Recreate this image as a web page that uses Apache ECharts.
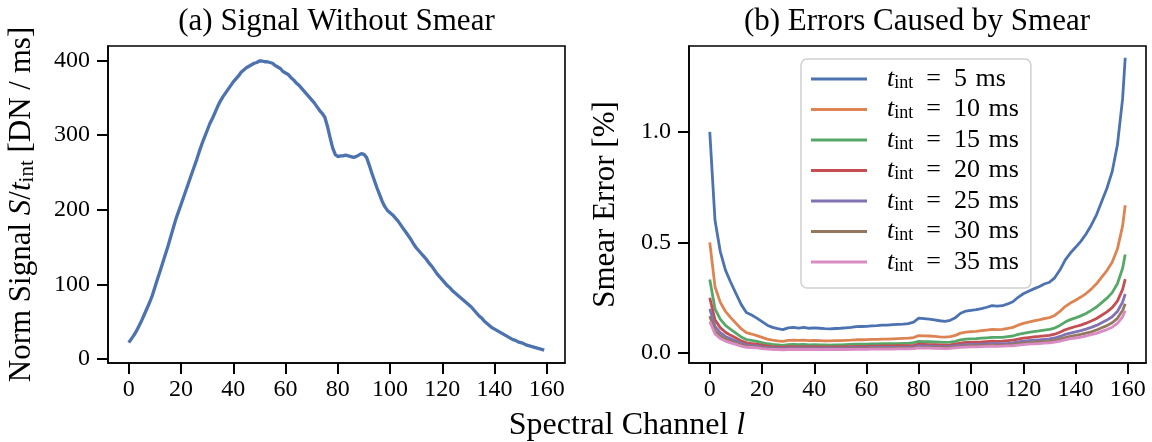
<!DOCTYPE html>
<html>
<head>
<meta charset="utf-8">
<script src="https://cdn.jsdelivr.net/npm/echarts@6/dist/echarts.min.js"></script>
<style>
html,body{margin:0;padding:0;background:#fff;}
#chart{width:1152px;height:442px;}
</style>
</head>
<body>
<div id="chart"></div>
<script>
// ---- data ----
const signal = [
  22, 27, 32, 38, 45, 52, 60, 68, 76, 85,
  96, 107, 118, 129, 140, 151, 163, 175, 187, 197,
  207, 217, 227, 237, 247, 257, 267, 278, 288, 297,
  306, 315, 322, 330, 338, 345, 351, 356, 361, 366,
  371, 375, 379, 384, 387, 390, 392, 394, 396, 397,
  399, 399, 398, 398, 397, 396, 393, 391, 389, 385,
  383, 381, 377, 374, 370, 367, 363, 359, 355, 351,
  347, 343, 338, 333, 329, 324, 312, 297, 283, 274,
  271, 272, 272, 273, 272, 271, 270, 271, 273, 275,
  274, 270, 260, 249, 239, 229, 220, 211, 204, 199,
  196, 193, 189, 185, 180, 175, 170, 165, 160, 154,
  149, 145, 141, 137, 133, 128, 124, 119, 114, 110,
  106, 102, 98, 95, 91, 88, 85, 82, 79, 76,
  73, 70, 66, 62, 58, 55, 51, 48, 45, 42,
  40, 38, 36, 34, 32, 30, 28, 26, 25, 23,
  22, 21, 19, 18, 17, 16, 15, 14, 13, 12
];
const signalChannels = signal.map((_, i) => i);

// smear error channels (every 2nd channel, plus last)
const errChannels = [];
for (let c = 0; c <= 158; c += 2) errChannels.push(c);
errChannels.push(159);

const tintValues = [5, 10, 15, 20, 25, 30, 35];
const err5 = [
  1.000, 0.600, 0.460, 0.375, 0.320, 0.270, 0.220, 0.183, 0.172, 0.158,
  0.142, 0.126, 0.116, 0.110, 0.106, 0.114, 0.116, 0.113, 0.116, 0.112,
  0.114, 0.112, 0.110, 0.109, 0.111, 0.112, 0.114, 0.116, 0.119, 0.120,
  0.121, 0.123, 0.124, 0.126, 0.126, 0.128, 0.130, 0.131, 0.133, 0.140,
  0.158, 0.156, 0.153, 0.150, 0.146, 0.143, 0.148, 0.160, 0.180, 0.190,
  0.193, 0.196, 0.201, 0.207, 0.214, 0.212, 0.214, 0.222, 0.232, 0.252,
  0.268, 0.279, 0.290, 0.300, 0.312, 0.320, 0.340, 0.375, 0.420, 0.452,
  0.478, 0.505, 0.538, 0.578, 0.625, 0.685, 0.745, 0.820, 0.940, 1.150,
  1.335
];
const err10 = [
  0.500, 0.300, 0.230, 0.188, 0.160, 0.135, 0.110, 0.092, 0.086, 0.079,
  0.071, 0.063, 0.058, 0.055, 0.053, 0.057, 0.058, 0.057, 0.058, 0.056,
  0.057, 0.056, 0.055, 0.055, 0.056, 0.056, 0.057, 0.058, 0.060, 0.060,
  0.061, 0.062, 0.062, 0.063, 0.063, 0.064, 0.065, 0.066, 0.067, 0.070,
  0.079, 0.078, 0.077, 0.075, 0.073, 0.072, 0.074, 0.080, 0.090, 0.095,
  0.097, 0.098, 0.101, 0.104, 0.107, 0.106, 0.107, 0.111, 0.116, 0.126,
  0.134, 0.140, 0.145, 0.150, 0.156, 0.160, 0.170, 0.188, 0.210, 0.226,
  0.239, 0.253, 0.269, 0.289, 0.313, 0.343, 0.373, 0.410, 0.470, 0.575,
  0.668
];
const err15 = [
  0.333, 0.200, 0.153, 0.125, 0.107, 0.090, 0.073, 0.061, 0.057, 0.053,
  0.047, 0.042, 0.039, 0.037, 0.035, 0.038, 0.039, 0.038, 0.039, 0.037,
  0.038, 0.037, 0.037, 0.036, 0.037, 0.037, 0.038, 0.039, 0.040, 0.040,
  0.040, 0.041, 0.041, 0.042, 0.042, 0.043, 0.043, 0.044, 0.044, 0.047,
  0.053, 0.052, 0.051, 0.050, 0.049, 0.048, 0.049, 0.053, 0.060, 0.063,
  0.064, 0.065, 0.067, 0.069, 0.071, 0.071, 0.071, 0.074, 0.077, 0.084,
  0.089, 0.093, 0.097, 0.100, 0.104, 0.107, 0.113, 0.125, 0.140, 0.151,
  0.159, 0.168, 0.179, 0.193, 0.208, 0.228, 0.248, 0.273, 0.313, 0.383,
  0.445
];
const err20 = [
  0.250, 0.150, 0.115, 0.094, 0.080, 0.068, 0.055, 0.046, 0.043, 0.040,
  0.036, 0.032, 0.029, 0.028, 0.027, 0.029, 0.029, 0.028, 0.029, 0.028,
  0.029, 0.028, 0.028, 0.027, 0.028, 0.028, 0.029, 0.029, 0.030, 0.030,
  0.030, 0.031, 0.031, 0.032, 0.032, 0.032, 0.033, 0.033, 0.033, 0.035,
  0.040, 0.039, 0.038, 0.038, 0.037, 0.036, 0.037, 0.040, 0.045, 0.048,
  0.048, 0.049, 0.050, 0.052, 0.054, 0.053, 0.054, 0.056, 0.058, 0.063,
  0.067, 0.070, 0.073, 0.075, 0.078, 0.080, 0.085, 0.094, 0.105, 0.113,
  0.120, 0.126, 0.135, 0.145, 0.156, 0.171, 0.186, 0.205, 0.235, 0.288,
  0.334
];
const err25 = [
  0.200, 0.120, 0.092, 0.075, 0.064, 0.054, 0.044, 0.037, 0.034, 0.032,
  0.028, 0.025, 0.023, 0.022, 0.021, 0.023, 0.023, 0.023, 0.023, 0.022,
  0.023, 0.022, 0.022, 0.022, 0.022, 0.022, 0.023, 0.023, 0.024, 0.024,
  0.024, 0.025, 0.025, 0.025, 0.025, 0.026, 0.026, 0.026, 0.027, 0.028,
  0.032, 0.031, 0.031, 0.030, 0.029, 0.029, 0.030, 0.032, 0.036, 0.038,
  0.039, 0.039, 0.040, 0.041, 0.043, 0.042, 0.043, 0.044, 0.046, 0.050,
  0.054, 0.056, 0.058, 0.060, 0.062, 0.064, 0.068, 0.075, 0.084, 0.090,
  0.096, 0.101, 0.108, 0.116, 0.125, 0.137, 0.149, 0.164, 0.188, 0.230,
  0.267
];
const err30 = [
  0.167, 0.100, 0.077, 0.063, 0.053, 0.045, 0.037, 0.031, 0.029, 0.026,
  0.024, 0.021, 0.019, 0.018, 0.018, 0.019, 0.019, 0.019, 0.019, 0.019,
  0.019, 0.019, 0.018, 0.018, 0.019, 0.019, 0.019, 0.019, 0.020, 0.020,
  0.020, 0.021, 0.021, 0.021, 0.021, 0.021, 0.022, 0.022, 0.022, 0.023,
  0.026, 0.026, 0.026, 0.025, 0.024, 0.024, 0.025, 0.027, 0.030, 0.032,
  0.032, 0.033, 0.034, 0.035, 0.036, 0.035, 0.036, 0.037, 0.039, 0.042,
  0.045, 0.047, 0.048, 0.050, 0.052, 0.053, 0.057, 0.063, 0.070, 0.075,
  0.080, 0.084, 0.090, 0.096, 0.104, 0.114, 0.124, 0.137, 0.157, 0.192,
  0.223
];
const err35 = [
  0.143, 0.086, 0.066, 0.054, 0.046, 0.039, 0.031, 0.026, 0.025, 0.023,
  0.020, 0.018, 0.017, 0.016, 0.015, 0.016, 0.017, 0.016, 0.017, 0.016,
  0.016, 0.016, 0.016, 0.016, 0.016, 0.016, 0.016, 0.017, 0.017, 0.017,
  0.017, 0.018, 0.018, 0.018, 0.018, 0.018, 0.019, 0.019, 0.019, 0.020,
  0.023, 0.022, 0.022, 0.021, 0.021, 0.020, 0.021, 0.023, 0.026, 0.027,
  0.028, 0.028, 0.029, 0.030, 0.031, 0.030, 0.031, 0.032, 0.033, 0.036,
  0.038, 0.040, 0.041, 0.043, 0.045, 0.046, 0.049, 0.054, 0.060, 0.065,
  0.068, 0.072, 0.077, 0.083, 0.089, 0.098, 0.106, 0.117, 0.134, 0.164,
  0.191
];
const errSeries = [err5, err10, err15, err20, err25, err30, err35];

const xTicks = [0, 20, 40, 60, 80, 100, 120, 140, 160];
const yTicksSignal = [0, 100, 200, 300, 400];
const yTicksErr = [0, 0.5, 1.0];

const colors = ['#4C72B0', '#DD8452', '#55A868', '#C44E52', '#8172B3', '#937860', '#DA8BC3'];

// ---- chart ----
const FONT = 'Liberation Serif';
const chart = echarts.init(document.getElementById('chart'), null, {renderer: 'canvas'});

function xAxisCfg(gridIndex) {
  return {
    type: 'value', gridIndex: gridIndex, min: -7.95, max: 166.95,
    splitLine: {show: false},
    axisLine: {show: true, onZero: false, lineStyle: {color: '#000', width: 1.6}},
    axisTick: {show: true, customValues: xTicks, length: 11, lineStyle: {color: '#000', width: 2}},
    axisLabel: {customValues: xTicks, margin: 15, color: '#000', fontFamily: FONT, fontSize: 24}
  };
}
function yAxisCfg(gridIndex, min, max, ticks, fmt, name, rich, gap) {
  return {
    type: 'value', gridIndex: gridIndex, min: min, max: max,
    splitLine: {show: false},
    axisLine: {show: true, onZero: false, lineStyle: {color: '#000', width: 1.6}},
    axisTick: {show: true, customValues: ticks, length: 11, lineStyle: {color: '#000', width: 2}},
    axisLabel: {customValues: ticks, margin: 18, color: '#000', fontFamily: FONT, fontSize: 24, formatter: fmt},
    name: name, nameLocation: 'middle', nameGap: gap,
    nameTextStyle: {color: '#000', fontFamily: FONT, fontSize: 31, rich: rich}
  };
}

const nameRich = {
  n: {fontFamily: FONT, fontSize: 31, lineHeight: 32, color: '#000'},
  i: {fontFamily: FONT, fontSize: 31, fontStyle: 'italic', lineHeight: 32, color: '#000'},
  s: {fontFamily: FONT, fontSize: 21, lineHeight: 18, verticalAlign: 'bottom', color: '#000'}
};

const series = [{
  type: 'line', xAxisIndex: 0, yAxisIndex: 0,
  data: signalChannels.map((c, i) => [c, signal[i]]),
  showSymbol: false, symbol: 'none',
  lineStyle: {color: colors[0], width: 3.3}, itemStyle: {color: colors[0]},
  animation: false
}];
errSeries.forEach((arr, k) => {
  series.push({
    type: 'line', xAxisIndex: 1, yAxisIndex: 1,
    name: 't_int = ' + tintValues[k] + ' ms',
    data: errChannels.map((c, i) => [c, arr[i]]),
    showSymbol: false, symbol: 'none',
    lineStyle: {color: colors[k], width: 2.8}, itemStyle: {color: colors[k]},
    animation: false
  });
});

const option = {
  animation: false,
  backgroundColor: '#fff',
  grid: [
    {left: 108, top: 46, width: 457, height: 317, show: true, borderColor: '#000', borderWidth: 1.6},
    {left: 689, top: 46, width: 457, height: 317, show: true, borderColor: '#000', borderWidth: 1.6}
  ],
  xAxis: [xAxisCfg(0), xAxisCfg(1)],
  yAxis: [
    yAxisCfg(0, -5.3, 419.1, yTicksSignal, v => String(v),
      '{n|Norm Signal }{i|S}{n|/}{i|t}{s|int}{n| [DN / ms]}', nameRich, 70),
    yAxisCfg(1, -0.045, 1.388, yTicksErr, v => v.toFixed(1),
      'Smear Error [%]', nameRich, 68)
  ],
  legend: {
    orient: 'vertical', left: 801, top: 59,
    data: tintValues.map(t => 't_int = ' + t + ' ms'),
    icon: 'rect', itemWidth: 56, itemHeight: 3, itemGap: 4.5,
    padding: [7, 12, 13, 10],
    backgroundColor: 'rgba(255,255,255,0.85)',
    borderColor: '#d0d0d0', borderWidth: 1.5, borderRadius: 6,
    selectedMode: false,
    formatter: function (name) {
      const rest = name.split('= ')[1].replace(' ', '\u2004');
      return '{t|t}{s|int}{r|\u2002=\u2002' + rest + '}';
    },
    textStyle: {
      fontFamily: FONT, fontSize: 26, color: '#000',
      rich: {
        t: {fontFamily: FONT, fontSize: 26, fontStyle: 'italic', lineHeight: 26, padding: [0, 0, 0, 15], color: '#000'},
        s: {fontFamily: FONT, fontSize: 18, lineHeight: 14, verticalAlign: 'bottom', color: '#000'},
        r: {fontFamily: FONT, fontSize: 26, lineHeight: 26, color: '#000'}
      }
    }
  },
  graphic: [
    {type: 'text', x: 336.5, y: 22, style: {text: '(a) Signal Without Smear', font: '31px "Liberation Serif"', fill: '#000', align: 'center', verticalAlign: 'middle'}},
    {type: 'text', x: 917, y: 22, style: {text: '(b) Errors Caused by Smear', font: '31px "Liberation Serif"', fill: '#000', align: 'center', verticalAlign: 'middle'}},
    {type: 'text', x: 627, y: 426, style: {
      text: '{n|Spectral Channel }{i|l}', align: 'center', verticalAlign: 'middle',
      rich: {
        n: {fontFamily: FONT, fontSize: 32, fill: '#000'},
        i: {fontFamily: FONT, fontSize: 32, fontStyle: 'italic', fill: '#000'}
      }
    }}
  ],
  series: series
};
chart.setOption(option);
</script>
</body>
</html>
